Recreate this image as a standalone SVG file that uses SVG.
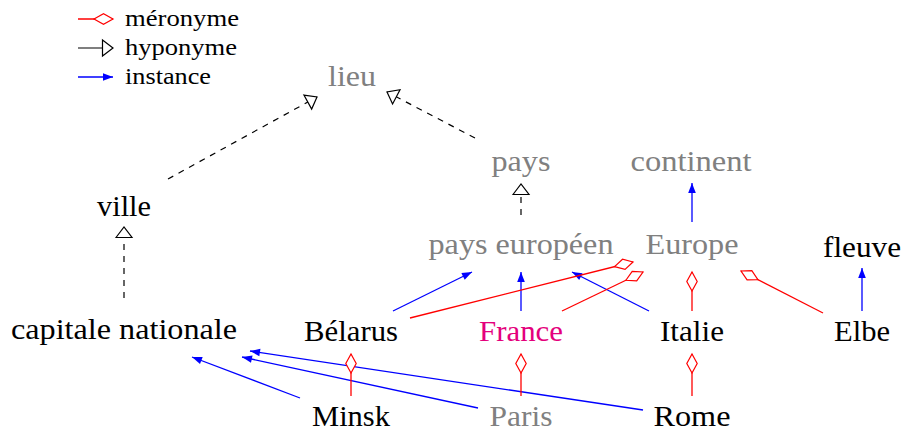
<svg xmlns="http://www.w3.org/2000/svg" width="904" height="434" viewBox="0 0 904 434">
<style>
text{font-family:"Liberation Serif","Times New Roman",serif;font-size:29px;text-anchor:middle;fill:#000}
.g{fill:#808080}
.m{fill:#e4007c}
.lg{font-size:23px;text-anchor:start}
.hyp{stroke:#000;stroke-width:1.2;fill:none;stroke-dasharray:6 6}
.hyps{stroke:#000;stroke-width:1.2;fill:none}
.inst{stroke:#0000ff;stroke-width:1.3;fill:none}
.mer{stroke:#ff0000;stroke-width:1.3;fill:none}
</style>
<defs>
<marker id="tri" markerUnits="userSpaceOnUse" viewBox="-2 -10 14 20" markerWidth="14" markerHeight="20" refX="10.5" refY="0" orient="auto">
<path d="M0,-8 L10.5,0 L0,8 Z" fill="#fff" stroke="#000" stroke-width="1.2" stroke-dasharray="none"/>
</marker>
<marker id="arr" markerUnits="userSpaceOnUse" viewBox="-1 -5 12 10" markerWidth="12" markerHeight="10" refX="10" refY="0" orient="auto">
<path d="M0,-3.8 L10,0 L0,3.8 Z" fill="#0000ff" stroke="none"/>
</marker>
<marker id="dia" markerUnits="userSpaceOnUse" viewBox="-2 -7 23 14" markerWidth="23" markerHeight="14" refX="19" refY="0" orient="auto">
<path d="M0,0 L9.5,-5.2 L19,0 L9.5,5.2 Z" fill="#fff" stroke="#ff0000" stroke-width="1.2"/>
</marker>
</defs>
<g id="legend">
<line class="mer" x1="78" y1="19" x2="113" y2="19" marker-end="url(#dia)"/>
<line class="hyps" x1="78" y1="48" x2="113" y2="48" marker-end="url(#tri)"/>
<line class="inst" x1="78" y1="77" x2="113" y2="77" marker-end="url(#arr)"/>
<text class="lg" x="125" y="26" textLength="114" lengthAdjust="spacingAndGlyphs">méronyme</text>
<text class="lg" x="125" y="55" textLength="112" lengthAdjust="spacingAndGlyphs">hyponyme</text>
<text class="lg" x="125" y="84" textLength="86" lengthAdjust="spacingAndGlyphs">instance</text>
</g>
<g id="connectors">
<line class="hyp" x1="124" y1="298" x2="124" y2="227" marker-end="url(#tri)"/>
<line class="hyp" x1="521" y1="215" x2="521" y2="184" marker-end="url(#tri)"/>
<line class="hyp" x1="168" y1="179" x2="317" y2="97" marker-end="url(#tri)"/>
<line class="hyp" x1="475" y1="138" x2="387" y2="92" marker-end="url(#tri)"/>
<line class="inst" x1="393" y1="311" x2="472" y2="272" marker-end="url(#arr)"/>
<line class="inst" x1="521" y1="311" x2="521" y2="272" marker-end="url(#arr)"/>
<line class="inst" x1="649" y1="311" x2="572" y2="272" marker-end="url(#arr)"/>
<line class="inst" x1="692" y1="222" x2="692" y2="183" marker-end="url(#arr)"/>
<line class="inst" x1="862" y1="311" x2="862" y2="268" marker-end="url(#arr)"/>
<line class="inst" x1="300" y1="398" x2="192" y2="357" marker-end="url(#arr)"/>
<line class="inst" x1="478" y1="408" x2="242" y2="357" marker-end="url(#arr)"/>
<line class="inst" x1="643" y1="410" x2="250" y2="351" marker-end="url(#arr)"/>
<line class="mer" x1="410" y1="318" x2="633" y2="262" marker-end="url(#dia)"/>
<line class="mer" x1="562" y1="311" x2="643" y2="272" marker-end="url(#dia)"/>
<line class="mer" x1="692" y1="311" x2="692" y2="272" marker-end="url(#dia)"/>
<line class="mer" x1="823" y1="313" x2="741" y2="271" marker-end="url(#dia)"/>
<line class="mer" x1="351" y1="396" x2="351" y2="354" marker-end="url(#dia)"/>
<line class="mer" x1="521" y1="396" x2="521" y2="354" marker-end="url(#dia)"/>
<line class="mer" x1="692" y1="396" x2="692" y2="354" marker-end="url(#dia)"/>
</g>
<g id="lieu"><text class="g" x="352" y="86" textLength="48" lengthAdjust="spacingAndGlyphs">lieu</text></g>
<g id="pays"><text class="g" x="521" y="171" textLength="59" lengthAdjust="spacingAndGlyphs">pays</text></g>
<g id="continent"><text class="g" x="691" y="171" textLength="121" lengthAdjust="spacingAndGlyphs">continent</text></g>
<g id="ville"><text x="124" y="216" textLength="54" lengthAdjust="spacingAndGlyphs">ville</text></g>
<g id="pays-europeen"><text class="g" x="521" y="254" textLength="185" lengthAdjust="spacingAndGlyphs">pays européen</text></g>
<g id="europe"><text class="g" x="692" y="254" textLength="93" lengthAdjust="spacingAndGlyphs">Europe</text></g>
<g id="fleuve"><text x="862" y="257" textLength="78" lengthAdjust="spacingAndGlyphs">fleuve</text></g>
<g id="capitale-nationale"><text x="124" y="339" textLength="226" lengthAdjust="spacingAndGlyphs">capitale nationale</text></g>
<g id="belarus"><text x="351" y="341" textLength="94" lengthAdjust="spacingAndGlyphs">Bélarus</text></g>
<g id="france"><text class="m" x="521" y="341" textLength="84" lengthAdjust="spacingAndGlyphs">France</text></g>
<g id="italie"><text x="692" y="341" textLength="64" lengthAdjust="spacingAndGlyphs">Italie</text></g>
<g id="elbe"><text x="862" y="341" textLength="56" lengthAdjust="spacingAndGlyphs">Elbe</text></g>
<g id="minsk"><text x="351" y="426" textLength="78" lengthAdjust="spacingAndGlyphs">Minsk</text></g>
<g id="paris"><text class="g" x="521" y="426" textLength="63" lengthAdjust="spacingAndGlyphs">Paris</text></g>
<g id="rome"><text x="692" y="426" textLength="77" lengthAdjust="spacingAndGlyphs">Rome</text></g>
</svg>
